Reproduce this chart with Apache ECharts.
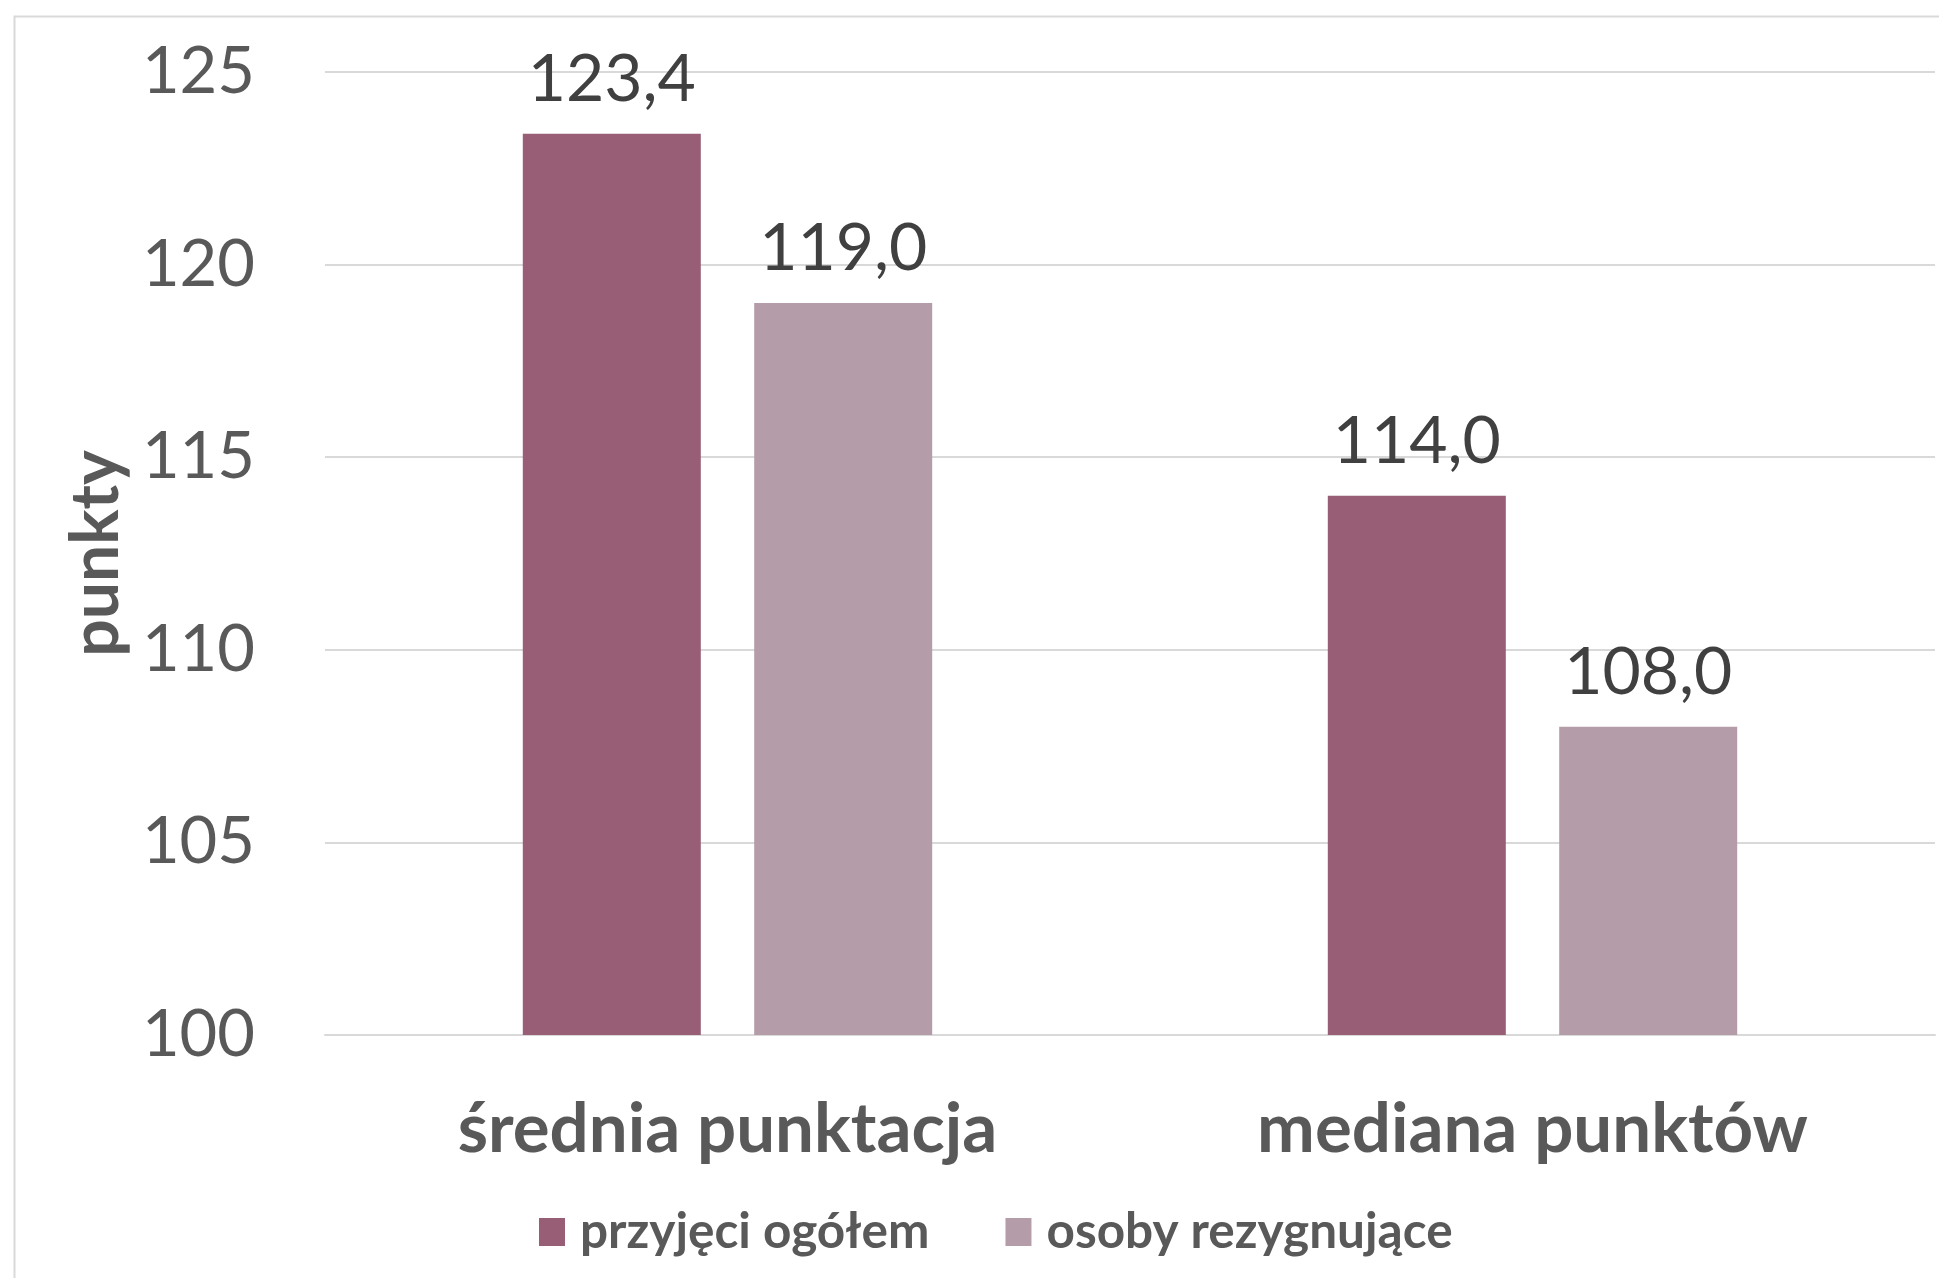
<!DOCTYPE html>
<html>
<head>
<meta charset="utf-8">
<script src="https://cdn.jsdelivr.net/npm/echarts@6/dist/echarts.min.js"></script>
<style>
html,body{margin:0;padding:0;background:#fff;}
#chart{width:1939px;height:1278px;}
</style>
</head>
<body>
<div id="chart"></div>
<script>
var categories = ['średnia punktacja', 'mediana punktów'];
var seriesNames = ['przyjęci ogółem', 'osoby rezygnujące'];
var przyjeci = [123.4, 114.0];
var rezygnujace = [119.0, 108.0];
var yTicks = [100, 105, 110, 115, 120, 125];
var colors = ['#975E76', '#B59CA9'];

var FONT = "Lato, 'Open Sans', sans-serif";
function fmt(v){ return v.toFixed(1).replace('.', ','); }

var chart = echarts.init(document.getElementById('chart'));
chart.setOption({
  animation: false,
  backgroundColor: '#ffffff',
  graphic: [{
    type: 'rect', left: 12, top: 14, z: -1,
    shape: { width: 1940, height: 1300 },
    style: { fill: 'none', stroke: '#D9D9D9', lineWidth: 2 }
  }],
  grid: { left: 325, right: 4, top: 72, bottom: 243, containLabel: false },
  legend: {
    data: seriesNames,
    left: 534, top: 1202,
    icon: 'rect', itemWidth: 26, itemHeight: 28, itemGap: 76,
    textStyle: { fontFamily: FONT, fontSize: 49.5, fontWeight: 'bold', color: '#595959', padding: [0,0,0,10] }
  },
  xAxis: {
    type: 'category',
    data: categories,
    axisLine: { show: true, lineStyle: { color: '#D9D9D9', width: 2 } },
    axisTick: { show: false },
    axisLabel: { fontFamily: FONT, fontSize: 69, fontWeight: 'bold', color: '#595959', margin: 60 }
  },
  yAxis: {
    type: 'value',
    min: yTicks[0], max: yTicks[yTicks.length - 1], interval: 5,
    name: 'punkty',
    nameLocation: 'middle',
    nameGap: 195,
    nameTextStyle: { fontFamily: FONT, fontSize: 66, fontWeight: 'bold', color: '#595959' },
    axisLine: { show: false },
    axisTick: { show: false },
    splitLine: { lineStyle: { color: '#D9D9D9', width: 2 } },
    axisLabel: { fontFamily: FONT, fontSize: 65, color: '#595959', margin: 70 }
  },
  series: [
    {
      name: seriesNames[0], type: 'bar', data: przyjeci,
      barWidth: 178, barGap: '30%',
      itemStyle: { color: colors[0] },
      label: { show: true, position: 'top', distance: 21, fontFamily: FONT, fontSize: 66, color: '#404040',
        formatter: function(p){ return fmt(p.value); } }
    },
    {
      name: seriesNames[1], type: 'bar', data: rezygnujace,
      barWidth: 178, barGap: '30%',
      itemStyle: { color: colors[1] },
      label: { show: true, position: 'top', distance: 21, fontFamily: FONT, fontSize: 66, color: '#404040',
        formatter: function(p){ return fmt(p.value); } }
    }
  ]
});
</script>
</body>
</html>
